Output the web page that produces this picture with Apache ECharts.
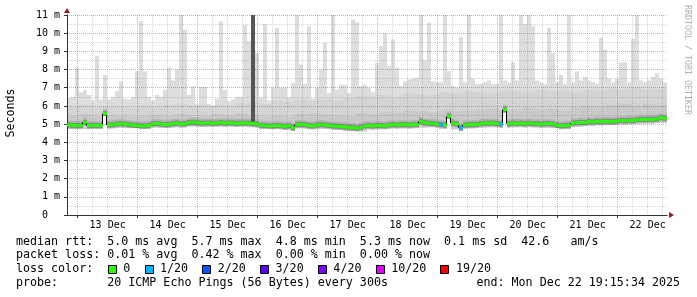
<!DOCTYPE html>
<html><head><meta charset="utf-8">
<script src="https://cdn.jsdelivr.net/npm/echarts@6/dist/echarts.min.js"></script>
<style>html,body{margin:0;padding:0;background:#fff}#c{width:697px;height:297px}</style>
</head><body><div id="c"></div>
<script>
// ---------------- data ----------------
const dayLabels = ['13 Dec','14 Dec','15 Dec','16 Dec','17 Dec','18 Dec','19 Dec','20 Dec','21 Dec','22 Dec'];
const firstBinHour = -4.25;   // hours relative to 13 Dec 00:00
const binHours = 1.6;         // consolidation step of the 10-day graph

// median rtt per bin (ms)
const median = [
 4.95,4.93,4.92,4.93,5.10,4.92,4.93,4.92,4.93,5.57,
 4.95,4.97,5.00,5.02,5.00,4.97,4.94,4.92,4.90,4.90,
 4.93,5.02,5.03,5.00,4.97,4.98,5.03,5.05,5.00,5.02,
 5.08,5.10,5.08,5.05,5.05,5.07,5.04,5.06,5.08,5.05,
 5.07,5.06,5.04,5.06,5.06,5.05,5.03,5.00,4.93,4.92,
 4.90,4.90,4.92,4.90,4.88,4.90,4.80,4.97,4.98,4.96,
 4.92,4.90,4.95,4.97,4.95,4.92,4.90,4.88,4.86,4.84,
 4.82,4.80,4.78,4.82,4.90,4.92,4.90,4.93,4.92,4.90,
 4.95,4.97,4.95,4.97,4.97,4.95,4.97,4.98,5.15,5.07,
 5.05,5.03,5.00,4.97,4.95,5.43,5.05,5.00,4.80,4.95,
 4.97,4.97,4.98,5.03,5.05,5.05,5.06,5.03,5.00,5.80,
 5.02,5.05,5.03,5.05,5.02,5.05,5.02,5.03,5.00,5.02,
 5.03,5.00,4.93,4.91,4.92,4.94,5.06,5.08,5.10,5.08,
 5.14,5.12,5.15,5.13,5.16,5.15,5.14,5.17,5.20,5.18,
 5.21,5.19,5.24,5.26,5.25,5.27,5.26,5.28,5.35,5.32
];
// highest ping per bin (ms)
const smokeMax = [
 6.44,6.50,8.10,6.75,6.86,6.60,6.30,8.75,6.35,7.70,
 6.35,6.50,6.80,7.35,6.40,6.35,6.50,7.90,10.66,7.90,
 6.50,6.30,6.60,6.50,6.90,8.10,7.40,8.00,11.50,10.20,
 6.60,7.10,6.10,7.05,7.05,6.10,6.00,6.40,10.66,6.86,
 6.25,6.35,6.50,6.50,10.45,9.56,8.73,8.90,6.45,10.50,
 6.30,7.00,10.30,7.00,7.00,6.50,7.27,11.50,8.27,7.20,
 10.40,6.40,7.00,8.00,9.47,6.70,11.50,6.90,7.17,7.17,
 6.72,10.75,10.60,7.10,7.17,7.00,6.75,8.37,9.30,10.00,
 8.20,9.65,8.10,7.10,7.35,7.45,7.50,7.55,11.50,8.50,
 10.57,7.35,7.30,7.30,11.50,7.90,7.10,7.00,9.80,7.30,
 11.50,7.50,7.20,7.20,7.30,7.40,7.20,7.20,11.50,7.40,
 7.30,8.40,7.40,11.50,10.50,11.50,10.40,7.40,7.30,7.20,
 10.30,8.90,7.30,7.70,7.20,11.50,7.30,7.90,7.40,7.60,
 7.40,7.30,7.20,9.75,9.10,7.50,7.30,7.50,8.40,8.40,
 7.30,9.70,11.50,7.40,7.30,7.40,7.60,7.80,7.50,7.30
];
// lowest ping per bin (ms)
const smokeMin = [
 4.72,4.72,4.72,4.72,4.72,4.72,4.74,4.74,4.74,5.45,
 4.76,4.76,4.80,4.80,4.80,4.78,4.78,4.78,4.74,4.74,
 4.74,4.80,4.80,4.80,4.80,4.80,4.80,4.82,4.82,4.82,
 4.86,4.86,4.86,4.85,4.85,4.85,4.86,4.86,4.86,4.86,
 4.86,4.86,4.86,4.86,4.86,4.82,4.82,4.82,4.74,4.74,
 4.74,4.72,4.72,4.72,4.68,4.68,4.62,4.76,4.76,4.76,
 4.72,4.72,4.72,4.74,4.74,4.74,4.68,4.68,4.68,4.62,
 4.62,4.62,4.60,4.60,4.60,4.70,4.70,4.70,4.72,4.72,
 4.72,4.76,4.76,4.76,4.76,4.76,4.76,4.80,4.80,4.80,
 4.82,4.82,4.82,4.74,4.74,5.30,4.70,4.70,4.62,4.76,
 4.76,4.76,4.80,4.80,4.80,4.82,4.82,4.82,4.80,5.62,
 4.80,4.82,4.82,4.82,4.82,4.82,4.82,4.80,4.80,4.80,
 4.78,4.78,4.78,4.72,4.72,4.72,4.84,4.84,4.84,4.90,
 4.90,4.90,4.94,4.94,4.94,4.95,4.95,4.95,4.98,4.98,
 4.98,5.00,5.00,5.00,5.02,5.02,5.02,5.06,5.06,5.06
];
// coarser upper-quantile smoke levels (one value per 3 bins)
const smokeInner = [
 5.45,5.55,5.40,5.50,5.45,5.40,5.45,5.50,5.45,5.55,
 5.50,5.45,5.55,5.50,5.60,5.50,5.40,5.45,5.40,5.55,
 5.60,5.55,5.50,5.45,5.60,5.55,5.65,5.60,5.75,5.70,
 5.65,5.80,5.70,5.75,5.80,5.85,5.75,5.80,5.90,5.80,
 5.85,5.75,5.90,6.00,5.95,6.05,6.10,6.00,6.10,6.05
];
const smokeUpper = [
 5.95,6.05,5.90,6.00,5.95,5.85,6.00,5.95,6.05,6.10,
 6.00,6.05,6.10,6.00,6.15,6.20,6.10,6.30,6.25,6.35,
 6.30,6.40,6.30,6.45,6.55,6.50,6.60,6.50,6.70,6.65,
 6.60,6.75,6.70,6.80,6.75,6.70,6.85,6.80,6.75,6.90,
 6.80,6.85,6.75,6.90,6.85,6.95,6.90,7.00,6.90,6.95
];
// bins where the inner smoke reached the top
const burstBins = [46];
const burstTop = [11.5];
// bins with 1/20 packet loss (all other bins: 0)
const loss1Bins = [93, 98, 108];

const lossLabels = ['0','1/20','2/20','3/20','4/20','10/20','19/20'];
const lossColors = ['#26ff00','#00b8ff','#0059ff','#5e00ff','#7e00ff','#dd00ff','#ff0000'];
const statLines = [
 'median rtt:  5.0 ms avg  5.7 ms max  4.8 ms min  5.3 ms now  0.1 ms sd  42.6   am/s',
 'packet loss: 0.01 % avg  0.42 % max  0.00 % min  0.00 % now'
];
const lossTitle = 'loss color:';
const probeLine = 'probe:       20 ICMP Echo Pings (56 Bytes) every 300s';
const endLine = 'end: Mon Dec 22 19:15:34 2025';
const yLabelUnit = 'm';

// ---------------- build ----------------
const xMin = firstBinHour, xMax = firstBinHour + median.length * binHours;
const midnightHours = dayLabels.map((d, k) => 24 * k);
const noonHours = dayLabels.map((d, k) => 24 * k + 12);
const sixHourHours = [];
[-24].concat(midnightHours).forEach(h => { [6, 12, 18].forEach(o => { const v = h + o; if (v > xMin && v < xMax) sixHourHours.push(v); }); });

const smokeData = median.map((m, i) => {
  const b = burstBins.indexOf(i);
  return [xMin + i * binHours, xMin + (i + 1) * binHours, smokeMin[i],
          smokeInner[Math.floor(i / 3)], smokeUpper[Math.floor(i / 3)], smokeMax[i], m,
          b >= 0 ? burstTop[b] : 0];
});
const medianStepData = median.map((m, i) => [xMin + i * binHours, i > 0 ? median[i - 1] : m, m]);
const medianBandData = median.map((m, i) => [xMin + i * binHours, xMin + (i + 1) * binHours, m, loss1Bins.indexOf(i) >= 0 ? 1 : 0]);

function renderSmoke(params, api) {
  const x0 = api.value(0), x1 = api.value(1);
  const lo = api.value(2), inner = api.value(3), upper = api.value(4), hi = api.value(5), med = api.value(6), burst = api.value(7);
  const X0 = api.coord([x0, 0])[0], X1 = api.coord([x1, 0])[0];
  const Y = v => api.coord([x0, v])[1];
  const yHi = Y(hi), yLo = Y(lo), yMed = Y(med);
  const band = (yt, yb, fill) => ({ type: 'rect', shape: { x: X0, y: yt, width: X1 - X0, height: Math.max(0, yb - yt) }, style: { fill } });
  const ch = [
    band(yHi, yMed, '#dddddd'),
    band(yMed, yLo, '#cdcdcd'),
    band(Y(Math.min(upper, hi)), yMed, '#d4d4d4'),
    band(Y(Math.min(inner, hi)), yMed, '#c9c9c9'),
    band(Math.max(yHi, yMed - 4.5), Math.min(yLo, yMed + 3.5), '#b3b3b3'),
    band(Math.max(yHi, yMed - 2.5), Math.min(yLo, yMed + 2.5), '#858585')
  ];
  if (burst > 0) ch.push(band(Y(burst), Y(med + 0.1), '#555555'));
  return { type: 'group', children: ch };
}
function renderMedianLine(params, api) {
  const X = Math.round(api.coord([api.value(0), 0])[0]) - 0.5;
  const y1 = api.coord([api.value(0), api.value(1)])[1];
  const y2 = api.coord([api.value(0), api.value(2)])[1];
  return { type: 'line', shape: { x1: X, y1: y1, x2: X, y2: y2 }, style: { stroke: '#000', lineWidth: 1 } };
}
function renderMedianBand(params, api) {
  const X0 = api.coord([api.value(0), 0])[0], X1 = api.coord([api.value(1), 0])[0];
  const y = api.coord([api.value(0), api.value(2)])[1];
  return { type: 'rect', shape: { x: X0, y: y - 1.5, width: X1 - X0, height: 3 },
           style: { fill: api.value(3) ? lossColors[1] : lossColors[0] } };
}

const FONT = '"DejaVu Sans Mono", monospace';
const LF = '11.66px ' + FONT;
const graphic = [];
const txt = (text, x, y, extra) => Object.assign({ type: 'text', x, y, silent: true,
  style: Object.assign({ text, fill: '#000', font: LF, align: 'left', textAlign: 'left', verticalAlign: 'middle', textVerticalAlign: 'middle' }, extra || {}) });
graphic.push(txt(statLines[0], 16, 241.5));
graphic.push(txt(statLines[1], 16, 255.3));
graphic.push(txt(lossTitle, 16, 269.3));
let lx = 123.3;
lossLabels.forEach((lab, k) => {
  const sx = Math.round(lx - 15.5) + 0.5;
  graphic.push({ type: 'rect', silent: true, shape: { x: sx, y: 265.5, width: 8, height: 8 }, style: { fill: lossColors[k], stroke: '#000', lineWidth: 1 } });
  graphic.push(txt(lab, lx, 269.3));
  lx += 29.7 + 7.02 * lab.length;
});
graphic.push(txt(probeLine, 16, 283));
graphic.push(txt(endLine, 680, 283, { align: 'right', textAlign: 'right' }));
graphic.push({ type: 'text', x: 10.5, y: 113, rotation: Math.PI / 2, silent: true,
  style: { text: 'Seconds', fill: '#000', font: LF, align: 'center', textAlign: 'center', verticalAlign: 'middle', textVerticalAlign: 'middle' } });
graphic.push({ type: 'text', x: 687, y: 60, rotation: -Math.PI / 2, silent: true,
  style: { text: 'RRDTOOL / TOBI OETIKER', fill: '#b0b0b0', font: '8.3px ' + FONT, align: 'center', textAlign: 'center', verticalAlign: 'middle', textVerticalAlign: 'middle' } });

// translucent grid like rrdtool (drawn over the smoke)
const majorGrid = { color: 'rgba(200,40,40,0.42)', width: 1, type: [1, 1] };
const minorGrid = { color: 'rgba(120,120,120,0.32)', width: 1, type: [1, 1] };

const option = {
  animation: false,
  backgroundColor: '#ffffff',
  grid: { left: 67, top: 15, width: 600, height: 200, containLabel: false },
  xAxis: [
    { type: 'value', min: xMin, max: xMax, position: 'bottom', z: 4,
      axisLine: { show: true, onZero: false, lineStyle: { color: '#333', width: 1 } },
      axisTick: { show: true, customValues: midnightHours, length: 3, inside: false, lineStyle: { color: '#333' } },
      axisLabel: { show: true, customValues: noonHours, formatter: v => dayLabels[Math.round((v - 12) / 24)],
                   color: '#000', fontFamily: FONT, fontSize: 10, margin: 5 },
      splitLine: { show: true, lineStyle: majorGrid } },
    { type: 'value', min: xMin, max: xMax, position: 'bottom', z: 3,
      axisLine: { show: true, onZero: false, symbol: ['none', 'triangle'], symbolSize: [6, 5], symbolOffset: [0, 4.5], lineStyle: { color: '#9b1c1c', width: 1 } },
      axisTick: { show: false, customValues: sixHourHours },
      axisLabel: { show: false },
      splitLine: { show: true, lineStyle: minorGrid } }
  ],
  yAxis: [
    { type: 'value', min: 0, max: 11, interval: 1, position: 'left', z: 4,
      axisLine: { show: true, onZero: false, lineStyle: { color: '#333', width: 1 } },
      axisTick: { show: true, length: 3, lineStyle: { color: '#333' } },
      axisLabel: { formatter: v => v === 0 ? '0  ' : v + ' ' + yLabelUnit, color: '#000', fontFamily: FONT, fontSize: 10, margin: 7 },
      splitLine: { show: true, lineStyle: majorGrid },
      minorTick: { show: false, splitNumber: 2 },
      minorSplitLine: { show: true, lineStyle: minorGrid } },
    { type: 'value', min: 0, max: 11, interval: 1, position: 'left', z: 3,
      axisLine: { show: true, onZero: false, symbol: ['none', 'triangle'], symbolSize: [6, 5], symbolOffset: [0, 4.5], lineStyle: { color: '#9b1c1c', width: 1 } },
      axisTick: { show: false }, axisLabel: { show: false }, splitLine: { show: false } }
  ],
  series: [
    { type: 'custom', name: 'smoke', xAxisIndex: 0, yAxisIndex: 0, z: 2, clip: true, silent: true,
      renderItem: renderSmoke, data: smokeData, encode: { x: [0, 1], y: [2, 5] } },
    { type: 'custom', name: 'median line', xAxisIndex: 0, yAxisIndex: 0, z: 5, clip: true, silent: true,
      renderItem: renderMedianLine, data: medianStepData, encode: { x: 0, y: [1, 2] } },
    { type: 'custom', name: 'median', xAxisIndex: 0, yAxisIndex: 0, z: 6, clip: true, silent: true,
      renderItem: renderMedianBand, data: medianBandData, encode: { x: [0, 1], y: 2 } }
  ],
  graphic: graphic
};
const chart = echarts.init(document.getElementById('c'), null, { renderer: 'canvas', width: 697, height: 297 });
chart.setOption(option);
</script>
</body></html>
